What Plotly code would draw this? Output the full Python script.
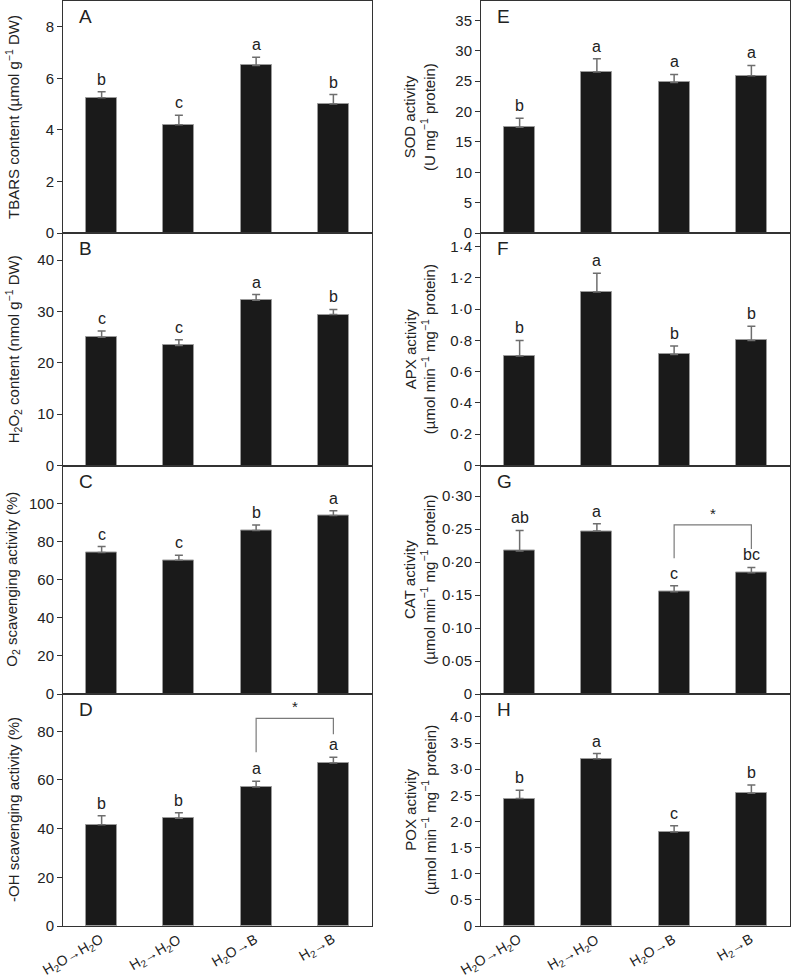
import plotly.graph_objects as go

# ---------------- data ----------------
categories = ["H<sub>2</sub>O→H<sub>2</sub>O", "H<sub>2</sub>→H<sub>2</sub>O",
              "H<sub>2</sub>O→B", "H<sub>2</sub>→B"]

tbars = [5.25, 4.2, 6.5, 5.0]
tbars_err = [0.23, 0.37, 0.32, 0.37]
tbars_letters = ["b", "c", "a", "b"]

h2o2 = [25.0, 23.4, 32.2, 29.4]
h2o2_err = [1.2, 1.1, 1.1, 1.0]
h2o2_letters = ["c", "c", "a", "b"]

o2 = [74.3, 70.2, 85.8, 93.7]
o2_err = [3.1, 2.7, 3.0, 2.6]
o2_letters = ["c", "c", "b", "a"]

oh = [41.6, 44.3, 57.1, 67.0]
oh_err = [3.7, 2.2, 2.4, 2.3]
oh_letters = ["b", "b", "a", "a"]

sod = [17.4, 26.5, 24.8, 25.9]
sod_err = [1.5, 2.2, 1.3, 1.7]
sod_letters = ["b", "a", "a", "a"]

apx = [0.70, 1.11, 0.71, 0.80]
apx_err = [0.10, 0.12, 0.055, 0.09]
apx_letters = ["b", "a", "b", "b"]

cat = [0.217, 0.247, 0.155, 0.184]
cat_err = [0.031, 0.011, 0.009, 0.008]
cat_letters = ["ab", "a", "c", "bc"]

pox = [2.44, 3.2, 1.8, 2.54]
pox_err = [0.16, 0.10, 0.12, 0.16]
pox_letters = ["b", "a", "c", "b"]

# tick values / labels
tbars_ticks = [0, 2, 4, 6, 8]
h2o2_ticks = [0, 10, 20, 30, 40]
o2_ticks = [0, 20, 40, 60, 80, 100]
oh_ticks = [0, 20, 40, 60, 80]
sod_ticks = [0, 5, 10, 15, 20, 25, 30, 35]
apx_ticks = [0, 0.2, 0.4, 0.6, 0.8, 1.0, 1.2, 1.4]
apx_ticktext = ["0", "0·2", "0·4", "0·6", "0·8", "1·0", "1·2", "1·4"]
cat_ticks = [0, 0.05, 0.10, 0.15, 0.20, 0.25, 0.30]
cat_ticktext = ["0", "0·05", "0·10", "0·15", "0·20", "0·25", "0·30"]
pox_ticks = [0, 0.5, 1.0, 1.5, 2.0, 2.5, 3.0, 3.5, 4.0]
pox_ticktext = ["0", "0·5", "1·0", "1·5", "2·0", "2·5", "3·0", "3·5", "4·0"]

# significance brackets: [left idx, right idx, left foot, right foot, top]
oh_bracket = [2, 3, 71.4, 78.8, 85.3]
cat_bracket = [2, 3, 0.2057, 0.220, 0.2565]

# ---------------- layout geometry ----------------
W, H = 791, 976
FONT = "Liberation Sans, Arial, Helvetica, sans-serif"
TXT = "#222222"

left_x = [63 / W, 372 / W]
right_x = [481 / W, 790 / W]
row_px = [(1, 233), (233, 465.5), (465.5, 694), (694, 926)]
row_dom = [[1 - b / H, 1 - t / H] for (t, b) in row_px]

panels = [
    ("A", tbars, tbars_err, tbars_letters, 9.0, tbars_ticks, None, 0, 0,
     "TBARS content (µmol g<sup>−1</sup> DW)"),
    ("B", h2o2, h2o2_err, h2o2_letters, 45.3, h2o2_ticks, None, 0, 1,
     "H<sub>2</sub>O<sub>2</sub> content (nmol g<sup>−1</sup> DW)"),
    ("C", o2, o2_err, o2_letters, 120.0, o2_ticks, None, 0, 2,
     "O<sub>2</sub> scavenging activity (%)"),
    ("D", oh, oh_err, oh_letters, 95.3, oh_ticks, None, 0, 3,
     "-OH scavenging activity (%)"),
    ("E", sod, sod_err, sod_letters, 38.2, sod_ticks, None, 1, 0,
     "SOD activity<br>(U mg<sup>−1</sup> protein)"),
    ("F", apx, apx_err, apx_letters, 1.487, apx_ticks, apx_ticktext, 1, 1,
     "APX activity<br>(µmol min<sup>−1</sup> mg<sup>−1</sup> protein)"),
    ("G", cat, cat_err, cat_letters, 0.3465, cat_ticks, cat_ticktext, 1, 2,
     "CAT activity<br>(µmol min<sup>−1</sup> mg<sup>−1</sup> protein)"),
    ("H", pox, pox_err, pox_letters, 4.44, pox_ticks, pox_ticktext, 1, 3,
     "POX activity<br>(µmol min<sup>−1</sup> mg<sup>−1</sup> protein)"),
]

fig = go.Figure()
annotations = []
shapes = []
xs = list(range(len(categories)))

for k, (lab, vals, errs, letters, ymax, ticks, ttext, col, row, title) in enumerate(panels):
    n = k + 1
    xa = "x" if n == 1 else f"x{n}"
    ya = "y" if n == 1 else f"y{n}"
    xkey = "xaxis" if n == 1 else f"xaxis{n}"
    ykey = "yaxis" if n == 1 else f"yaxis{n}"

    fig.add_trace(go.Bar(
        x=xs, y=vals, width=0.4, xaxis=xa, yaxis=ya,
        marker=dict(color="#1a1a1a", line=dict(color="#9a9a9a", width=1)),
        error_y=dict(type="data", array=errs, arrayminus=[0] * len(errs),
                     symmetric=False, color="#6e6e6e", thickness=1.5, width=4),
        showlegend=False, hoverinfo="skip",
    ))

    fig.update_layout(**{
        xkey: dict(domain=left_x if col == 0 else right_x, anchor=ya,
                   range=[-0.5, 3.5], tickmode="array", tickvals=xs,
                   showticklabels=False, ticks="", automargin=False,
                   showline=True, mirror=True, linecolor="#333333", linewidth=1,
                   showgrid=False, zeroline=False),
        ykey: dict(domain=row_dom[row], anchor=xa, range=[0, ymax],
                   tickmode="array", tickvals=ticks,
                   ticktext=ttext if ttext else [str(t) for t in ticks],
                   ticks="outside", ticklen=5, tickcolor="#333333",
                   automargin=False,
                   showline=True, mirror=True, linecolor="#333333", linewidth=1,
                   showgrid=False, zeroline=False,
                   tickfont=dict(family=FONT, size=15, color=TXT)),
    })

    # category labels under bottom panels
    if row == 3:
        for i, c in enumerate(categories):
            annotations.append(dict(x=i, y=0, xref=xa, yref=ya, text=c,
                                    showarrow=False, textangle=-30,
                                    xanchor="right", yanchor="top",
                                    xshift=8, yshift=-2,
                                    font=dict(family=FONT, size=14, color=TXT)))

    # significance letters
    for i, (v, e, L) in enumerate(zip(vals, errs, letters)):
        annotations.append(dict(x=i, y=v + e, xref=xa, yref=ya, text=L,
                                showarrow=False, yanchor="bottom", yshift=2,
                                font=dict(family=FONT, size=16, color=TXT)))

    # panel label
    x0px = 63 if col == 0 else 481
    annotations.append(dict(x=(x0px + 14) / W, y=1 - (row_px[row][0] + 3) / H,
                            xref="paper", yref="paper", text=lab, showarrow=False,
                            xanchor="left", yanchor="top",
                            font=dict(family=FONT, size=19, color=TXT)))

    # y-axis title
    tx = 13 if col == 0 else 420
    cy = (row_px[row][0] + row_px[row][1]) / 2
    annotations.append(dict(x=tx / W, y=1 - cy / H, xref="paper", yref="paper",
                            text=title, showarrow=False, textangle=-90,
                            xanchor="center", yanchor="middle",
                            font=dict(family=FONT, size=15, color=TXT)))

# brackets
for n, br in [(4, oh_bracket), (7, cat_bracket)]:
    xa, ya = f"x{n}", f"y{n}"
    i0, i1, f0, f1, top = br
    path = f"M {i0} {f0} L {i0} {top} L {i1} {top} L {i1} {f1}"
    shapes.append(dict(type="path", path=path, xref=xa, yref=ya,
                       line=dict(color="#7a7a7a", width=1.2)))
    annotations.append(dict(x=(i0 + i1) / 2, y=top, xref=xa, yref=ya, text="*",
                            showarrow=False, yanchor="bottom", yshift=1,
                            font=dict(family=FONT, size=15, color=TXT)))

fig.update_layout(
    width=W, height=H, margin=dict(l=0, r=0, t=0, b=0, autoexpand=False),
    paper_bgcolor="white", plot_bgcolor="white",
    annotations=annotations, shapes=shapes, bargap=0,
    font=dict(family=FONT, color=TXT),
)

fig.write_html("out.html",
               config={"displayModeBar": False},
               post_script="document.body.style.margin='0px';"
                           "document.body.style.overflow='hidden';")
